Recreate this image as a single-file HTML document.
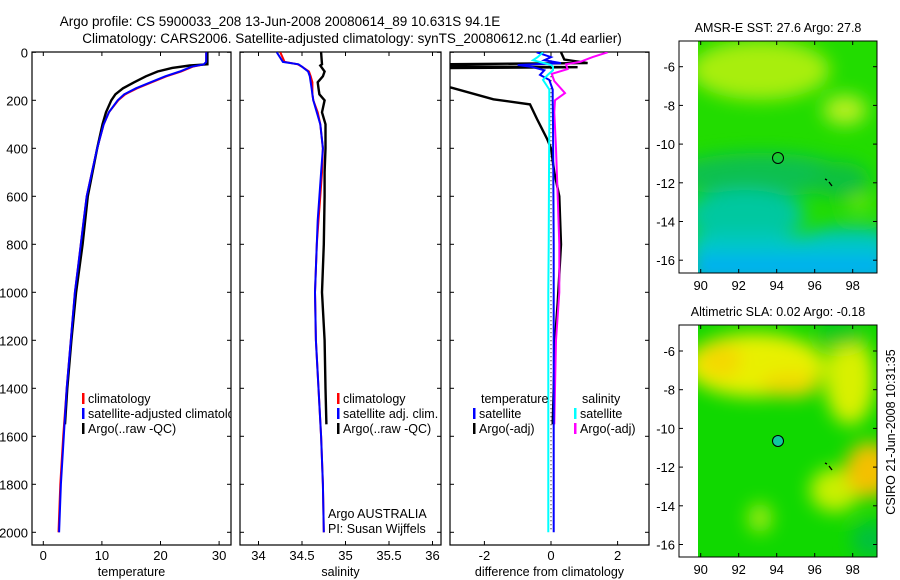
<!DOCTYPE html>
<html><head><meta charset="utf-8"><style>
html,body{margin:0;padding:0;background:#fff}
svg{display:block;font-family:"Liberation Sans",sans-serif}
</style></head><body>
<svg id="fig" width="900" height="580" viewBox="0 0 900 580">
<defs>
<filter id="blur6" x="-50%" y="-50%" width="200%" height="200%"><feGaussianBlur stdDeviation="9"/></filter>
<clipPath id="cp1"><rect x="32" y="52" width="199" height="493"/></clipPath>
<clipPath id="cp2"><rect x="240" y="52" width="201" height="493"/></clipPath>
<clipPath id="cp3"><rect x="450" y="52" width="199" height="493"/></clipPath>
<clipPath id="cm1"><rect x="698" y="41" width="179" height="232"/></clipPath>
<clipPath id="cm2"><rect x="698" y="325" width="179" height="232"/></clipPath>
</defs>
<text x="280" y="26" font-size="13.5" text-anchor="middle">Argo profile: CS 5900033_208 13-Jun-2008 20080614_89 10.631S 94.1E</text>
<text x="352" y="43" font-size="13.5" text-anchor="middle">Climatology: CARS2006. Satellite-adjusted climatology: synTS_20080612.nc (1.4d earlier)</text>

<g>
<text x="778" y="32" font-size="12.5" text-anchor="middle">AMSR-E SST: 27.6 Argo: 27.8</text>
<g clip-path="url(#cm1)">
<rect x="698" y="41" width="179" height="232" fill="#22dc00"/>
<g filter="url(#blur6)">
<ellipse cx="760" cy="70" rx="70" ry="30" fill="#a8ee10"/>
<ellipse cx="845" cy="110" rx="22" ry="15" fill="#b8f020"/>
<ellipse cx="760" cy="175" rx="90" ry="22" fill="#10c050"/>
<ellipse cx="840" cy="180" rx="30" ry="18" fill="#10c040"/>
<ellipse cx="745" cy="215" rx="60" ry="25" fill="#00c8a0"/>
<ellipse cx="850" cy="235" rx="40" ry="10" fill="#10c880"/>
<rect x="690" y="235" width="200" height="25" fill="#00c8c8"/>
<rect x="690" y="255" width="200" height="30" fill="#00b0f0"/>
<ellipse cx="860" cy="203" rx="12" ry="6" fill="#80e800"/>
</g>
</g>
<rect x="679" y="41" width="198" height="232" fill="none" stroke="#000"/>
<circle cx="778" cy="158" r="5.5" fill="none" stroke="#000"/>
<path d="M825 179 L827 180 M829 182 L832 186" stroke="#000" stroke-width="1.3"/>
<g id="m1ticks"></g>
</g>

<g>
<text x="778" y="316" font-size="12.5" text-anchor="middle">Altimetric SLA: 0.02 Argo: -0.18</text>
<g clip-path="url(#cm2)">
<rect x="698" y="325" width="179" height="232" fill="#10d800"/>
<g filter="url(#blur6)">
<ellipse cx="755" cy="365" rx="70" ry="32" fill="#e8f000"/>
<ellipse cx="720" cy="360" rx="22" ry="18" fill="#f4d800"/>
<ellipse cx="790" cy="385" rx="30" ry="12" fill="#f0d800"/>
<ellipse cx="850" cy="380" rx="25" ry="45" fill="#d8f000"/>
<ellipse cx="835" cy="490" rx="25" ry="22" fill="#c8f000"/>
<ellipse cx="760" cy="518" rx="12" ry="15" fill="#a0ec10"/>
<ellipse cx="870" cy="470" rx="25" ry="28" fill="#f4c000"/>
<ellipse cx="870" cy="540" rx="18" ry="18" fill="#00c040"/>
<ellipse cx="840" cy="335" rx="25" ry="12" fill="#00c820"/>
</g>
</g>
<rect x="679" y="325" width="198" height="232" fill="none" stroke="#000"/>
<circle cx="778" cy="441" r="5.5" fill="#10c8a0" stroke="#000"/>
<path d="M825 463 L827 464 M829 466 L832 470" stroke="#000" stroke-width="1.3"/>
<g id="m2ticks"></g>
</g>
<text transform="translate(895,432) rotate(-90)" font-size="12.5" text-anchor="middle">CSIRO 21-Jun-2008 10:31:35</text>
<g id="plots"></g>
</svg>
<script>
// ---- data (depth in m) ----
const climDepth = [0,40,50,60,80,100,125,150,175,200,250,300,400,500,600,700,800,900,1000,1200,1400,1600,1800,2000];
const climTemp  = [27.8,27.8,27.5,25.5,23.5,21,18.5,16,14,12.8,11.2,10.3,9.2,8.3,7.4,6.9,6.4,5.9,5.4,4.7,4.0,3.4,2.9,2.6];
const satTemp   = [27.8,27.8,27.4,25.3,23.3,20.8,18.3,15.8,13.8,12.7,11.2,10.3,9.2,8.3,7.4,6.9,6.4,5.9,5.4,4.7,4.0,3.5,3.0,2.7];
const argoDepth = [0,50,55,65,80,100,125,150,175,200,250,300,400,500,600,800,1000,1200,1400,1550];
const argoTemp  = [28,28,25,22,19.5,17.5,15.5,13.6,12.3,11.6,10.7,10.1,9.2,8.4,7.6,6.7,5.6,4.8,4.1,3.7];
const climSal   = [34.25,34.3,34.45,34.5,34.58,34.6,34.62,34.62,34.62,34.63,34.68,34.71,34.74,34.73,34.71,34.69,34.67,34.66,34.65,34.66,34.69,34.72,34.74,34.75];
const satSal    = [34.21,34.28,34.46,34.5,34.57,34.59,34.6,34.61,34.62,34.63,34.67,34.71,34.74,34.72,34.7,34.68,34.67,34.66,34.65,34.66,34.69,34.72,34.74,34.75];
const argoSal   = [34.72,34.73,34.71,34.73,34.76,34.74,34.68,34.69,34.7,34.76,34.73,34.77,34.77,34.76,34.76,34.75,34.73,34.76,34.77,34.78];
const diffDepth = [0,20,33,45,53,60,75,94,115,155,200,300,500,800,1000,1200,1400,1600,1800,2000];
const satTempDiff = [-0.43,0,-0.2,0.3,-1.0,-0.6,-0.2,-0.33,-0.05,0.05,0.05,0.06,0.07,0.08,0.08,0.08,0.08,0.08,0.08,0.08];
const satSalDiff  = [-0.24,-0.4,-0.54,-0.2,0.0,0.06,0.06,-0.1,-0.24,-0.05,-0.05,-0.05,-0.06,-0.07,-0.08,-0.08,-0.08,-0.08,-0.08,-0.08];
const argoDiffDepth = [0,30,45,50,58,62,66,72,140,147,196,217,278,360,400,500,600,800,1043,1200,1400,1550];
const argoTempDiff  = [0.3,0.4,1.1,-3.4,-3.4,0.8,-3.4,-3.6,-3.6,-3.0,-1.73,-0.63,-0.42,-0.12,0,0.1,0.25,0.3,0.2,0.12,0.08,0.05];
const argoSalDiffDepth = [0,20,40,50,70,90,120,170,200,250,400,600,800,1000,1200,1400,1550];
const argoSalDiff   = [1.7,1.25,0.87,0.45,0.5,0.02,0.1,0.42,0.12,0.1,0.15,0.2,0.25,0.25,0.15,0.12,0.1];
const depthTicks = [0,200,400,600,800,1000,1200,1400,1600,1800,2000];
const tempTicks = [0,10,20,30];
const salTicks = [34,34.5,35,35.5,36];
const diffTicks = [-2,0,2];
const lonTicks = [90,92,94,96,98];
const latTicks = [-6,-8,-10,-12,-14,-16];

const NS="http://www.w3.org/2000/svg";
const plots=document.getElementById('plots');
function mk(tag,attrs,parent){const e=document.createElementNS(NS,tag);for(const k in attrs)e.setAttribute(k,attrs[k]);(parent||plots).appendChild(e);return e;}
const yD = d => 52.3 + d*0.24;
const xT = v => 43.3 + v*5.86;
const xS = v => 258.5 + (v-34)*87;
const xDf = v => 551 + v*33.3;

const panels=[
 {x0:32,x1:231,sx:xT,ticks:tempTicks,label:'temperature',cp:'cp1',name:'temperature-panel'},
 {x0:240,x1:441,sx:xS,ticks:salTicks,label:'salinity',cp:'cp2',name:'salinity-panel'},
 {x0:450,x1:649,sx:xDf,ticks:diffTicks,label:'difference from climatology',cp:'cp3',name:'difference-panel'}];
const yTop=52,yBot=545;
panels.forEach((p,i)=>{
  const g=mk('g',{});
  
  
  mk('rect',{x:p.x0,y:yTop,width:p.x1-p.x0,height:yBot-yTop,fill:'none',stroke:'#000','stroke-width':1.2},g);
  depthTicks.forEach(d=>{
    mk('line',{x1:p.x0,x2:p.x0+4,y1:yD(d),y2:yD(d),stroke:'#000'},g);
    mk('line',{x1:p.x1-4,x2:p.x1,y1:yD(d),y2:yD(d),stroke:'#000'},g);
    if(i===0){const t=mk('text',{x:28,y:yD(d)+5,'font-size':13,'text-anchor':'end'},g);t.textContent=d;
      
      }
  });
  p.ticks.forEach(v=>{
    const x=p.sx(v);
    mk('line',{x1:x,x2:x,y1:yBot,y2:yBot-4,stroke:'#000'},g);
    mk('line',{x1:x,x2:x,y1:yTop,y2:yTop+4,stroke:'#000'},g);
    const t=mk('text',{x:x,y:yBot+15,'font-size':13,'text-anchor':'middle'},g);t.textContent=v;
    
    
  });
  const xl=mk('text',{x:(p.x0+p.x1)/2,y:576,'font-size':12.5,'text-anchor':'middle'},g);xl.textContent=p.label;
  
  
});
function line(depths,vals,sx,color,cp,name,w){
  const pts=depths.map((d,i)=>sx(vals[i]).toFixed(1)+','+yD(d).toFixed(1)).join(' ');
  const l=mk('polyline',{points:pts,fill:'none',stroke:color,'stroke-width':w||2,'clip-path':'url(#'+cp+')'});
  
  
}
line(climDepth,climTemp,xT,'#f00','cp1','temp-climatology-line');
line(argoDepth,argoTemp,xT,'#000','cp1','temp-argo-line',2.4);
line(climDepth,satTemp,xT,'#00f','cp1','temp-satellite-line');
line(climDepth,climSal,xS,'#f00','cp2','sal-climatology-line');
line(argoDepth,argoSal,xS,'#000','cp2','sal-argo-line',2.4);
line(climDepth,satSal,xS,'#00f','cp2','sal-satellite-line');
mk('line',{x1:xDf(0),x2:xDf(0),y1:yD(0),y2:yD(2000),stroke:'#000','stroke-dasharray':'1,3'});
line(argoDiffDepth,argoTempDiff,xDf,'#000','cp3','temp-argo-diff-line',2.4);
line(argoSalDiffDepth,argoSalDiff,xDf,'#f0f','cp3','sal-argo-diff-line');
line(diffDepth,satTempDiff,xDf,'#00f','cp3','temp-satellite-diff-line');
line(diffDepth,satSalDiff,xDf,'#0ff','cp3','sal-satellite-diff-line');

function legend(x,y,color,label,cp){
  if(color) mk('rect',{x:x,y:y-10,width:2.5,height:11,fill:color});
  const t=mk('text',{x:x+6,y:y,'font-size':12.5,'clip-path':'url(#'+cp+')'});t.textContent=label;
  
  
}
legend(82,403,'#f00','climatology','cp1');
legend(82,418,'#00f','satellite-adjusted climatology','cp1');
legend(82,433,'#000','Argo(..raw -QC)','cp1');
legend(337,403,'#f00','climatology','cp2');
legend(337,418,'#00f','satellite adj. clim.','cp2');
legend(337,433,'#000','Argo(..raw -QC)','cp2');
legend(475,403,null,'temperature','cp3');
legend(473,418,'#00f','satellite','cp3');
legend(473,433,'#000','Argo(-adj)','cp3');
legend(576,403,null,'salinity','cp3');
legend(574,418,'#0ff','satellite','cp3');
legend(574,433,'#f0f','Argo(-adj)','cp3');
const a1=mk('text',{x:328,y:518,'font-size':12.5});a1.textContent='Argo AUSTRALIA';


const a2=mk('text',{x:328,y:533,'font-size':12.5});a2.textContent='PI: Susan Wijffels';



// map ticks
const lonX = v => 700.7 + (v-90)*19;
[['m1ticks',41,273,66.7],['m2ticks',325,557,351]].forEach(([id,t,b,y6])=>{
  const g=document.getElementById(id);
  const latY = v => y6 + (-6 - v)*19.35;
  lonTicks.forEach(v=>{
    const x=lonX(v);
    mk('line',{x1:x,x2:x,y1:t,y2:t+4,stroke:'#000'},g);
    mk('line',{x1:x,x2:x,y1:b,y2:b-4,stroke:'#000'},g);
    const tx=mk('text',{x:x,y:b+17,'font-size':13,'text-anchor':'middle'},g);tx.textContent=v;
    
    
  });
  latTicks.forEach(v=>{
    const y=latY(v);
    mk('line',{x1:679,x2:683,y1:y,y2:y,stroke:'#000'},g);
    mk('line',{x1:873,x2:877,y1:y,y2:y,stroke:'#000'},g);
    const tx=mk('text',{x:675,y:y+5,'font-size':13,'text-anchor':'end'},g);tx.textContent=v;
    
    
  });
});
</script>
</body></html>
